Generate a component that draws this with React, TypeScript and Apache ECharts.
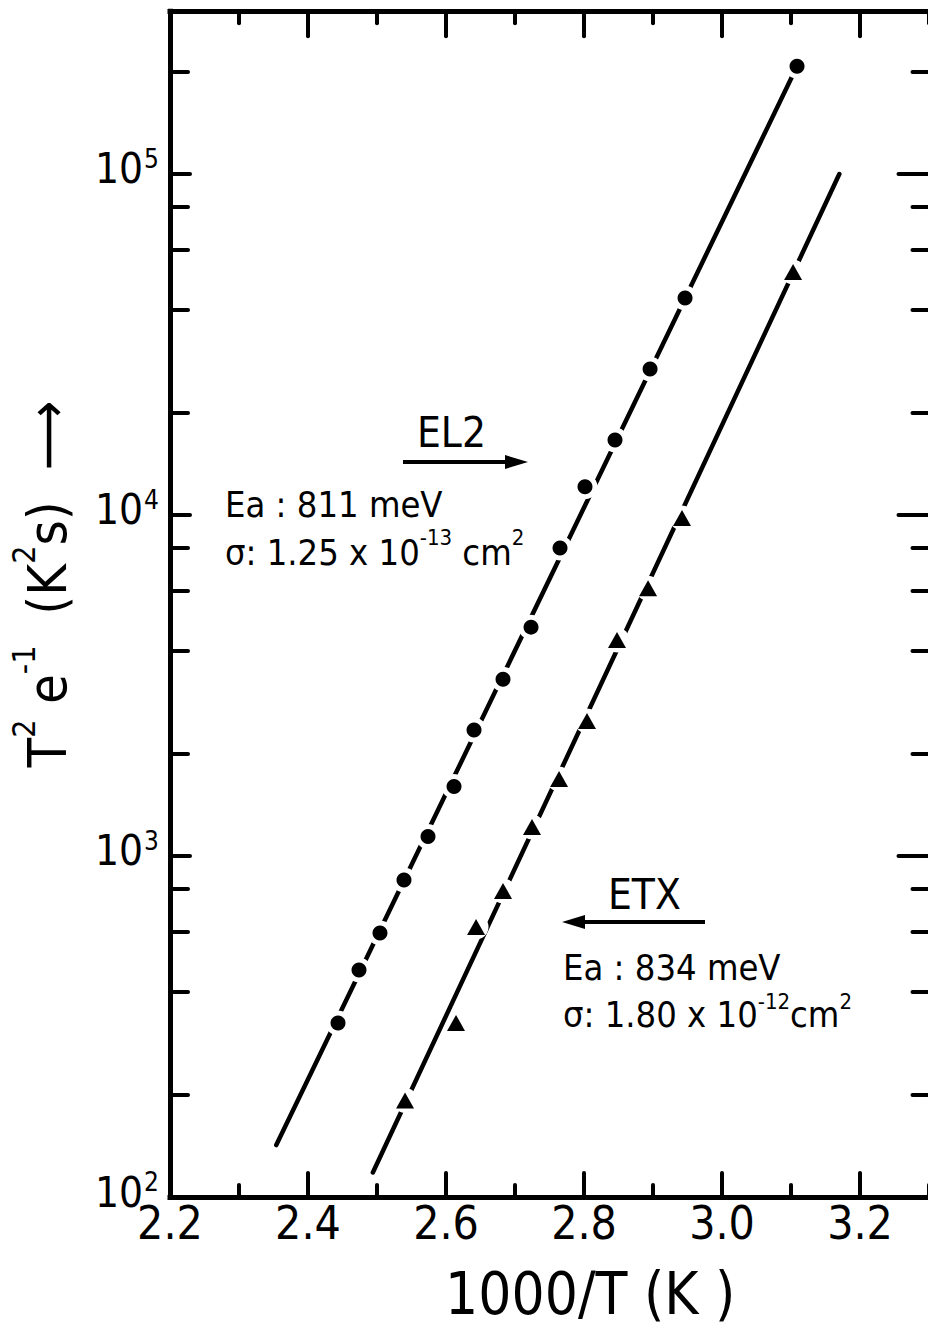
import React, { useEffect, useRef } from "react";
import * as echarts from "echarts";

// ---- data (1000/T in 1/K, T^2 e^-1 in K^2 s) ----
const xMajorTicks = [2.2, 2.4, 2.6, 2.8, 3.0, 3.2];
const xMinorTicks = [2.3, 2.5, 2.7, 2.9, 3.1, 3.3];
const yDecades = [100, 1000, 10000, 100000];
const yMinorTicks = [200, 400, 600, 800, 2000, 4000, 6000, 8000, 20000, 40000, 60000, 80000, 200000];
const xMin = 2.2;
const xMax = 3.305;
const yMinValue = 100;
const yMaxValue = 300000;

const el2X = [2.4435, 2.4739, 2.5043, 2.5391, 2.5739, 2.6116, 2.6406, 2.6826, 2.7232, 2.7652, 2.8014, 2.8449, 2.8957, 2.9464, 3.1087];
const el2Y = [324, 463, 595, 851, 1140, 1600, 2340, 3300, 4690, 8000, 12100, 16600, 26800, 43300, 207000];
const etxX = [2.5406, 2.6145, 2.6435, 2.6826, 2.7246, 2.7638, 2.8043, 2.8478, 2.8928, 2.942, 3.1029];
const etxY = [192, 324, 619, 790, 1216, 1682, 2490, 4300, 6100, 9800, 51600];
const etxOffFit = [1]; // point lying away from the fitted line

const el2FitX = [2.354, 3.1087];
const el2FitY = [142, 207000];
const etxFitX = [2.494, 3.17];
const etxFitY = [118, 100000];

const FONT = "'DejaVu Sans Condensed', 'Liberation Sans Narrow', 'DejaVu Sans', sans-serif";
const BLACK = "#000";

const lg = (v: number) => Math.log10(v);
const pts = (xs: number[], ys: number[]) => xs.map((x, i) => [x, lg(ys[i])]);

function buildOption() {
  const yMin = lg(yMinValue);
  const yMax = lg(yMaxValue);
  const tickStyle = (len: number) => ({
    show: true,
    inside: true,
    length: len,
    lineStyle: { color: BLACK, width: 4, cap: "round" },
  });
  const lineOn = { show: true, lineStyle: { color: BLACK, width: 5, cap: "square" } };
  const lineOff = { show: false };
  const noLabel = { show: false };
  const baseX = { type: "value", min: xMin, max: xMax, splitLine: { show: false }, gridIndex: 0 };
  const baseY = { type: "value", min: yMin, max: yMax, splitLine: { show: false }, gridIndex: 0 };

  const supRich = {
    b: { fontSize: 42, lineHeight: 32, fontFamily: FONT, color: BLACK, verticalAlign: "bottom" },
    s: { fontSize: 26, lineHeight: 22, fontFamily: FONT, color: BLACK, verticalAlign: "bottom", padding: [0, 0, 18, 1] },
  };

  const textRich = (size: number, pad: number) => ({
    n: { fontSize: size, fontFamily: FONT, fill: BLACK, color: BLACK, verticalAlign: "bottom", padding: [pad, 0, 0, 0] },
    s: { fontSize: Math.round(size * 0.6), fontFamily: FONT, fill: BLACK, color: BLACK, verticalAlign: "top" },
  });

  return {
    animation: false,
    backgroundColor: "#fff",
    grid: { left: 170, right: 27.5, top: 11.3, bottom: 133, containLabel: false, outerBoundsMode: "none" },
    xAxis: [
      {
        ...baseX,
        position: "bottom",
        axisLine: lineOn,
        axisTick: { ...tickStyle(24), customValues: xMajorTicks },
        axisLabel: {
          customValues: xMajorTicks,
          formatter: (v: number) => v.toFixed(1),
          fontSize: 46,
          lineHeight: 34,
          fontFamily: FONT,
          color: BLACK,
          margin: 9,
        },
        name: "1000/T (K )",
        nameLocation: "middle",
        nameGap: 72,
        nameTextStyle: { fontSize: 58, lineHeight: 50, fontFamily: FONT, color: BLACK, padding: [0, 0, 0, 78] },
      },
      { ...baseX, position: "bottom", axisLine: lineOff, axisTick: { ...tickStyle(12), customValues: xMinorTicks }, axisLabel: noLabel },
      { ...baseX, position: "top", axisLine: lineOn, axisTick: { ...tickStyle(25), customValues: xMajorTicks }, axisLabel: noLabel },
      { ...baseX, position: "top", axisLine: lineOff, axisTick: { ...tickStyle(12), customValues: xMinorTicks }, axisLabel: noLabel },
    ],
    yAxis: [
      {
        ...baseY,
        position: "left",
        axisLine: lineOn,
        axisTick: { ...tickStyle(20), customValues: yDecades.map(lg) },
        axisLabel: {
          customValues: yDecades.map(lg),
          formatter: (v: number) => `{b|10}{s|${Math.round(v)}}`,
          rich: supRich,
          margin: 11,
        },
        name: "{n|T}{s|2}{n| e}{s|-1}{n|  (K}{s|2}{n|s)  ⟶}",
        nameLocation: "middle",
        nameRotate: 90,
        nameGap: 96,
        nameTextStyle: { rich: textRich(54, 12), padding: [0, 0, 0, 40] },
      },
      { ...baseY, position: "left", axisLine: lineOff, axisTick: { ...tickStyle(18), customValues: yMinorTicks.map(lg) }, axisLabel: noLabel },
      { ...baseY, position: "right", axisLine: lineOn, axisTick: { ...tickStyle(34), customValues: yDecades.map(lg) }, axisLabel: noLabel },
      { ...baseY, position: "right", axisLine: lineOff, axisTick: { ...tickStyle(20), customValues: yMinorTicks.map(lg) }, axisLabel: noLabel },
    ],
    series: [
      {
        type: "line",
        data: pts(el2FitX, el2FitY),
        symbol: "none",
        lineStyle: { color: BLACK, width: 4.5, cap: "round" },
        z: 2,
        silent: true,
      },
      {
        type: "line",
        data: pts(etxFitX, etxFitY),
        symbol: "none",
        lineStyle: { color: BLACK, width: 4.5, cap: "round" },
        z: 2,
        silent: true,
      },
      {
        type: "scatter",
        data: pts(el2X, el2Y),
        symbol: "circle",
        symbolSize: 25,
        itemStyle: { color: "#fff", opacity: 1 },
        z: 3,
        silent: true,
      },
      {
        type: "scatter",
        data: pts(etxX, etxY).filter((_, i) => !etxOffFit.includes(i)),
        symbol: "circle",
        symbolSize: 25,
        itemStyle: { color: "#fff", opacity: 1 },
        z: 3,
        silent: true,
      },
      {
        type: "scatter",
        data: pts(el2X, el2Y),
        symbol: "circle",
        symbolSize: 15,
        itemStyle: { color: BLACK, opacity: 1 },
        z: 4,
        silent: true,
      },
      {
        type: "scatter",
        data: pts(etxX, etxY),
        symbol: "triangle",
        symbolSize: [18, 16],
        itemStyle: { color: BLACK, opacity: 1 },
        z: 4,
        silent: true,
      },
    ],
    graphic: [
      {
        type: "text",
        x: 417,
        y: 411,
        style: { text: "EL2", fontSize: 42, fontFamily: FONT, fill: BLACK, textVerticalAlign: "top", verticalAlign: "top" },
      },
      { type: "line", shape: { x1: 403, y1: 462, x2: 512, y2: 462 }, style: { stroke: BLACK, lineWidth: 4 } },
      { type: "polygon", shape: { points: [[505, 455], [528, 462], [505, 469]] }, style: { fill: BLACK } },
      {
        type: "text",
        x: 225,
        y: 490,
        style: { text: "Ea : 811 meV", fontSize: 36, lineHeight: 28, fontFamily: FONT, fill: BLACK, textVerticalAlign: "top", verticalAlign: "top" },
      },
      {
        type: "text",
        x: 225,
        y: 526,
        style: {
          text: "{n|σ: 1.25 x 10}{s|-13}{n| cm}{s|2}",
          rich: textRich(36, 8),
          textVerticalAlign: "top",
          verticalAlign: "top",
        },
      },
      {
        type: "text",
        x: 608,
        y: 873,
        style: { text: "ETX", fontSize: 42, fontFamily: FONT, fill: BLACK, textVerticalAlign: "top", verticalAlign: "top" },
      },
      { type: "line", shape: { x1: 578, y1: 922, x2: 705, y2: 922 }, style: { stroke: BLACK, lineWidth: 4 } },
      { type: "polygon", shape: { points: [[585, 915], [562, 922], [585, 929]] }, style: { fill: BLACK } },
      {
        type: "text",
        x: 563,
        y: 953,
        style: { text: "Ea : 834 meV", fontSize: 36, lineHeight: 28, fontFamily: FONT, fill: BLACK, textVerticalAlign: "top", verticalAlign: "top" },
      },
      {
        type: "text",
        x: 563,
        y: 990,
        style: {
          text: "{n|σ: 1.80 x 10}{s|-12}{n|cm}{s|2}",
          rich: textRich(36, 6),
          textVerticalAlign: "top",
          verticalAlign: "top",
        },
      },
    ],
  };
}

export default function App() {
  const ref = useRef<HTMLDivElement>(null);
  useEffect(() => {
    if (!ref.current) return;
    const chart = echarts.init(ref.current, null, { renderer: "svg" });
    chart.setOption(buildOption() as any);
    return () => chart.dispose();
  }, []);
  return (
    <div
      ref={ref}
      style={{ position: "fixed", left: 0, top: 0, width: 960, height: 1330, background: "#fff" }}
    />
  );
}
